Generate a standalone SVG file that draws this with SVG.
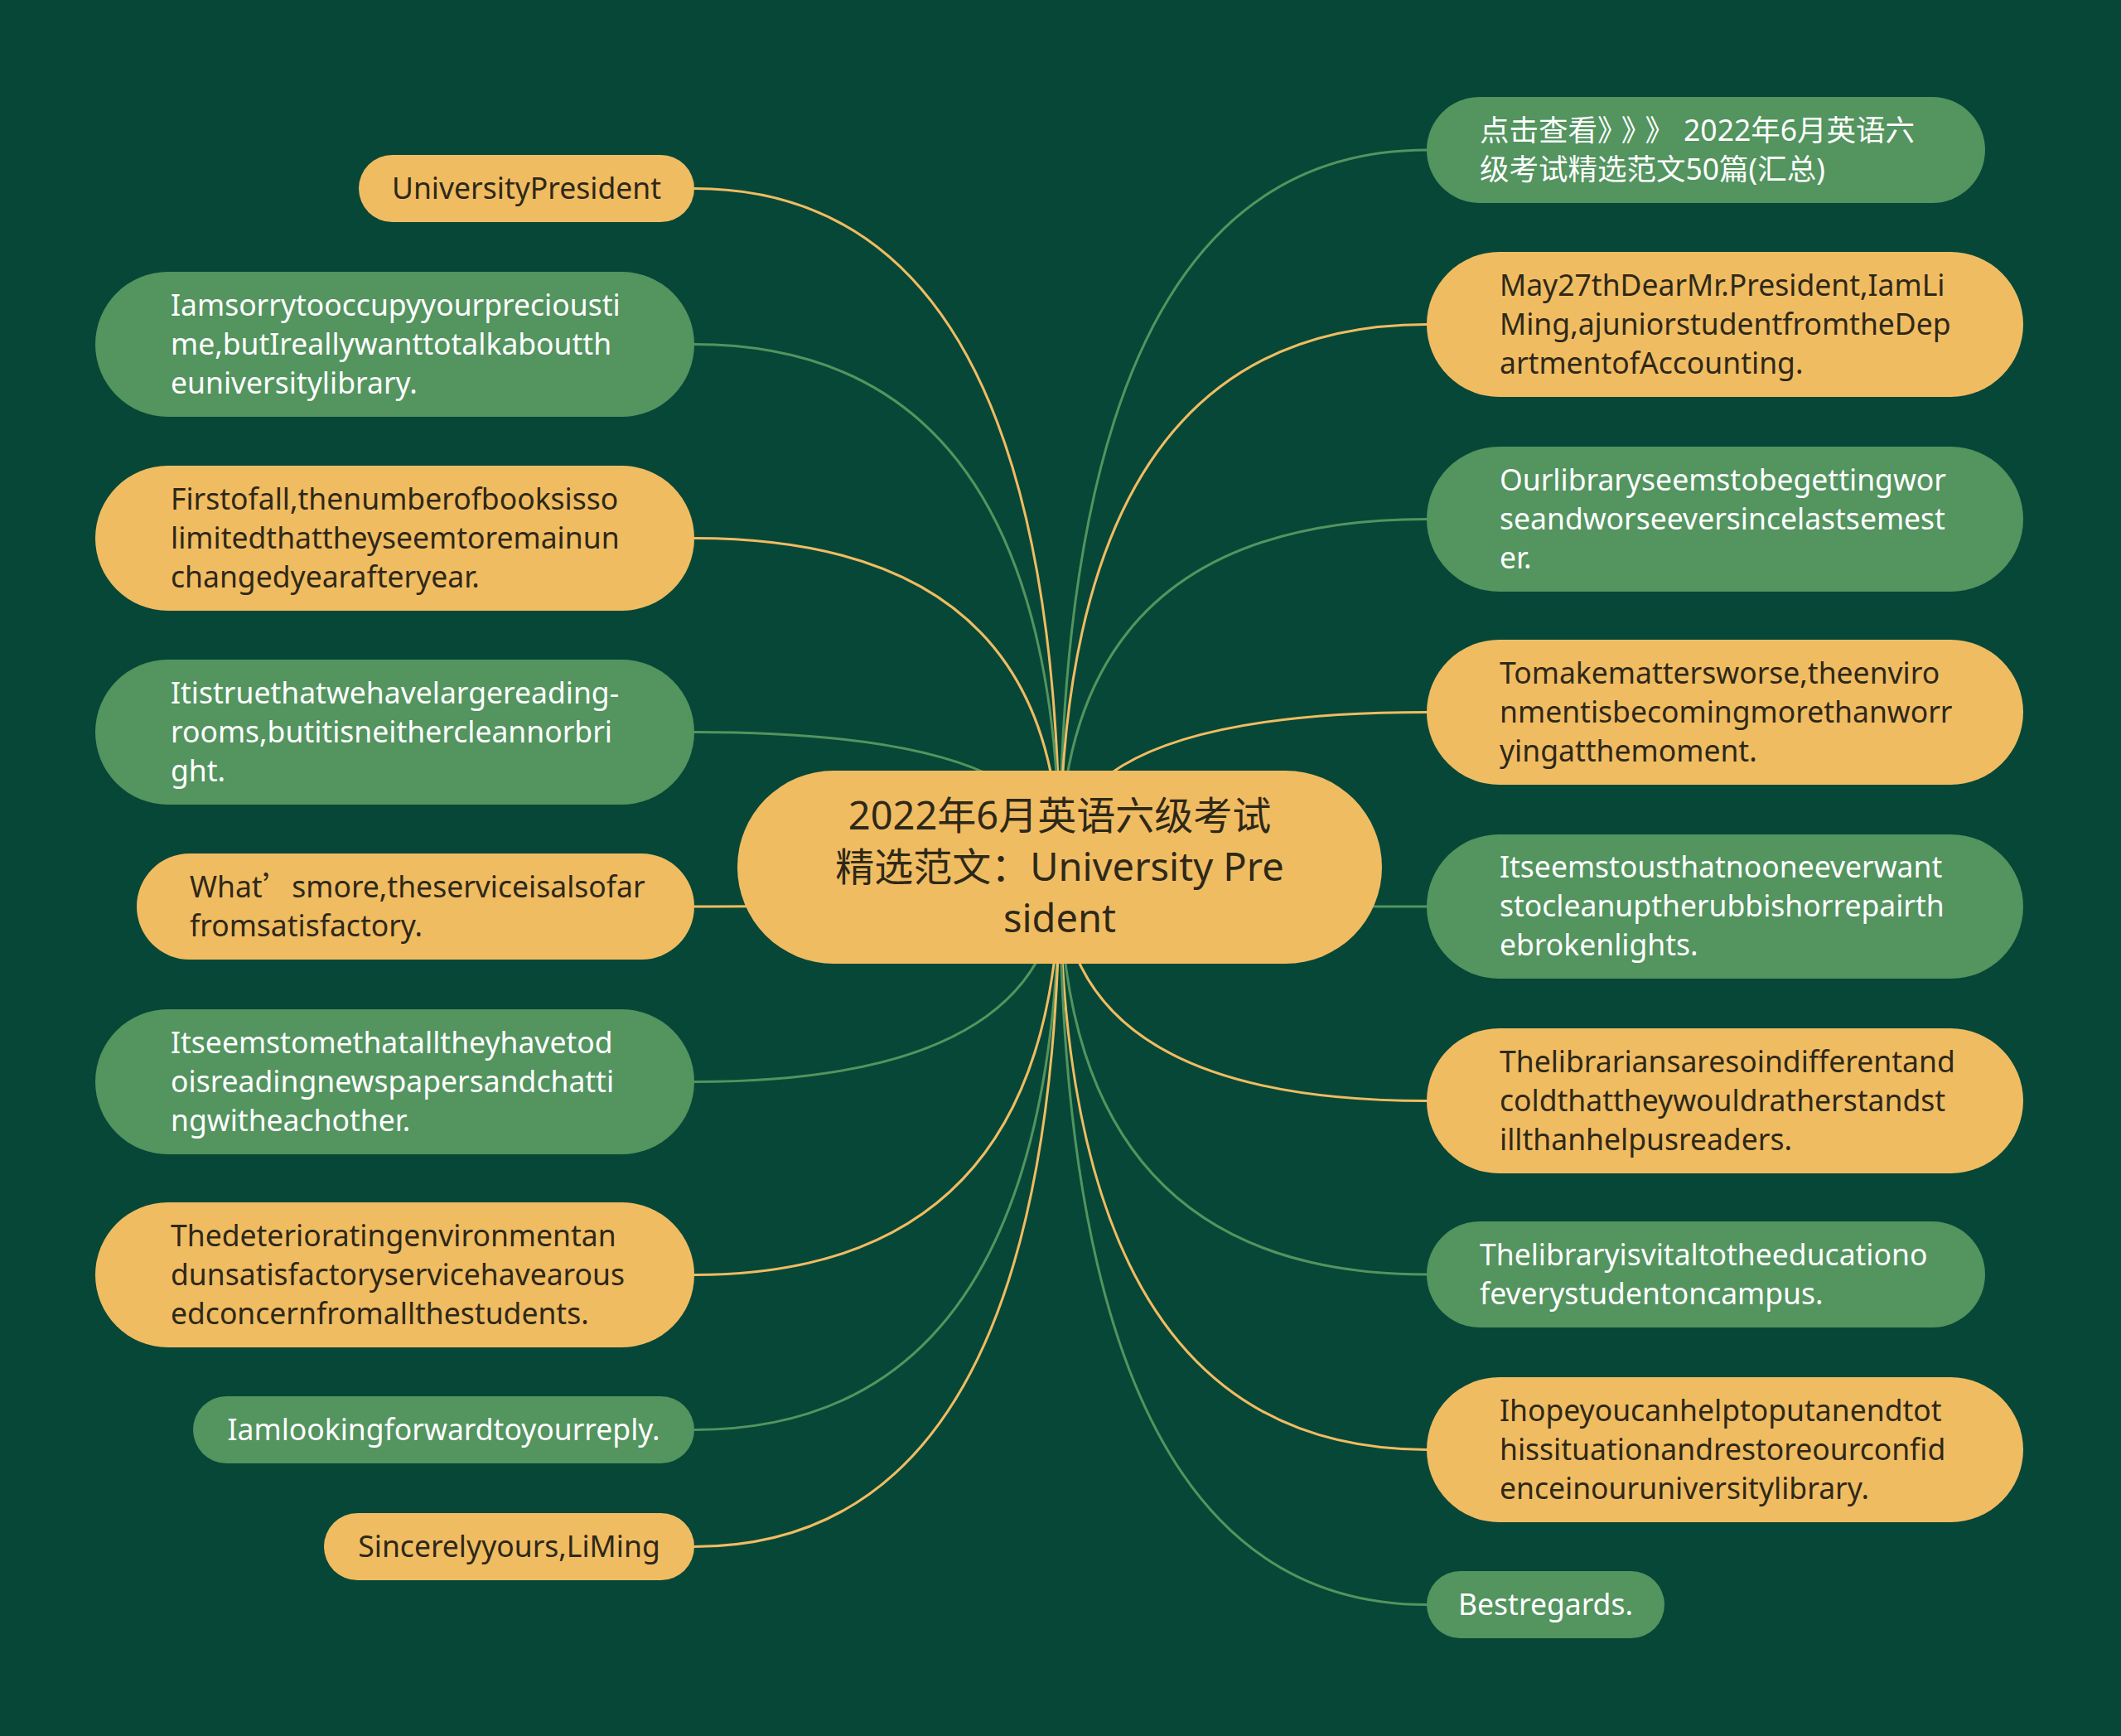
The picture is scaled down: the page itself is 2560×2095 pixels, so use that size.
<svg xmlns="http://www.w3.org/2000/svg" width="2560" height="2095" viewBox="0 0 2560 2095">
<style>
.bg{fill:#074737}
.lo{fill:none;stroke:#F0BC62;stroke-width:3}
.lg{fill:none;stroke:#53945F;stroke-width:3}
.no{fill:#F0BC62}
.ng{fill:#53945F}
.t{font-family:"Noto Sans","Noto Sans CJK SC",sans-serif;font-size:35.5px}
.cj{font-family:"Noto Sans CJK SC",sans-serif}
.to{fill:#2E2818}
.tg{fill:#FFFFFF}
.tc{font-family:"Noto Sans","Noto Sans CJK SC",sans-serif;font-size:47px;fill:#2E2818;text-anchor:middle}
.m{text-anchor:middle}
</style>
<rect class="bg" x="0" y="0" width="2560" height="2095"/>
<g id="connectors">
<path class="lo" d="M838 227.5 Q1279 227.5 1279 1047"/>
<path class="lg" d="M838 415.5 Q1279 415.5 1279 1047"/>
<path class="lo" d="M838 649.5 Q1279 649.5 1279 1047"/>
<path class="lg" d="M838 883.5 Q1279 883.5 1279 1047"/>
<path class="lo" d="M838 1094 Q1279 1094 1279 1047"/>
<path class="lg" d="M838 1305.5 Q1279 1305.5 1279 1047"/>
<path class="lo" d="M838 1538.5 Q1279 1538.5 1279 1047"/>
<path class="lg" d="M838 1725.5 Q1279 1725.5 1279 1047"/>
<path class="lo" d="M838 1866.5 Q1279 1866.5 1279 1047"/>
<path class="lg" d="M1722 181 Q1279 181 1279 1047"/>
<path class="lo" d="M1722 391.5 Q1279 391.5 1279 1047"/>
<path class="lg" d="M1722 626.5 Q1279 626.5 1279 1047"/>
<path class="lo" d="M1722 859.5 Q1279 859.5 1279 1047"/>
<path class="lg" d="M1722 1094 Q1279 1094 1279 1047"/>
<path class="lo" d="M1722 1328.5 Q1279 1328.5 1279 1047"/>
<path class="lg" d="M1722 1538 Q1279 1538 1279 1047"/>
<path class="lo" d="M1722 1749.5 Q1279 1749.5 1279 1047"/>
<path class="lg" d="M1722 1936.5 Q1279 1936.5 1279 1047"/>
</g>
<g id="center">
<rect class="no" x="890" y="930" width="778" height="233" rx="116.5"/>
<text class="tc" x="1279" y="1001">2022年6月英语六级考试</text>
<text class="tc" x="1279" y="1063">精选范文：University Pre</text>
<text class="tc" x="1279" y="1125">sident</text>
</g>
<g id="L1"><rect class="no" x="433" y="187" width="405" height="81" rx="40.5"/>
<text class="t to m" x="635.5" y="240">UniversityPresident</text></g>
<g id="L2"><rect class="ng" x="115" y="328" width="723" height="175" rx="87.5"/>
<text class="t tg" x="206" y="380.5">Iamsorrytooccupyyourpreciousti</text>
<text class="t tg" x="206" y="427.5">me,butIreallywanttotalkaboutth</text>
<text class="t tg" x="206" y="474.5">euniversitylibrary.</text></g>
<g id="L3"><rect class="no" x="115" y="562" width="723" height="175" rx="87.5"/>
<text class="t to" x="206" y="614.5">Firstofall,thenumberofbooksisso</text>
<text class="t to" x="206" y="661.5">limitedthattheyseemtoremainun</text>
<text class="t to" x="206" y="708.5">changedyearafteryear.</text></g>
<g id="L4"><rect class="ng" x="115" y="796" width="723" height="175" rx="87.5"/>
<text class="t tg" x="206" y="848.5">Itistruethatwehavelargereading-</text>
<text class="t tg" x="206" y="895.5">rooms,butitisneithercleannorbri</text>
<text class="t tg" x="206" y="942.5">ght.</text></g>
<g id="L5"><rect class="no" x="165" y="1030" width="673" height="128" rx="64"/>
<text class="t to" x="229" y="1083">What<tspan class="cj">’</tspan>smore,theserviceisalsofar</text>
<text class="t to" x="229" y="1130">fromsatisfactory.</text></g>
<g id="L6"><rect class="ng" x="115" y="1218" width="723" height="175" rx="87.5"/>
<text class="t tg" x="206" y="1270.5">Itseemstomethatalltheyhavetod</text>
<text class="t tg" x="206" y="1317.5">oisreadingnewspapersandchatti</text>
<text class="t tg" x="206" y="1364.5">ngwitheachother.</text></g>
<g id="L7"><rect class="no" x="115" y="1451" width="723" height="175" rx="87.5"/>
<text class="t to" x="206" y="1503.5">Thedeterioratingenvironmentan</text>
<text class="t to" x="206" y="1550.5">dunsatisfactoryservicehavearous</text>
<text class="t to" x="206" y="1597.5">edconcernfromallthestudents.</text></g>
<g id="L8"><rect class="ng" x="233" y="1685" width="605" height="81" rx="40.5"/>
<text class="t tg m" x="535.5" y="1738">Iamlookingforwardtoyourreply.</text></g>
<g id="L9"><rect class="no" x="391" y="1826" width="447" height="81" rx="40.5"/>
<text class="t to m" x="614.5" y="1879">Sincerelyyours,LiMing</text></g>
<g id="R1"><rect class="ng" x="1722" y="117" width="674" height="128" rx="64"/>
<text class="t tg" x="1786" y="170">点击查看<tspan class="cj" style="letter-spacing:11px">》》》</tspan>2022年6月英语六</text>
<text class="t tg" x="1786" y="217">级考试精选范文50篇(汇总)</text></g>
<g id="R2"><rect class="no" x="1722" y="304" width="720" height="175" rx="87.5"/>
<text class="t to" x="1810" y="356.5">May27thDearMr.President,IamLi</text>
<text class="t to" x="1810" y="403.5">Ming,ajuniorstudentfromtheDep</text>
<text class="t to" x="1810" y="450.5">artmentofAccounting.</text></g>
<g id="R3"><rect class="ng" x="1722" y="539" width="720" height="175" rx="87.5"/>
<text class="t tg" x="1810" y="591.5">Ourlibraryseemstobegettingwor</text>
<text class="t tg" x="1810" y="638.5">seandworseeversincelastsemest</text>
<text class="t tg" x="1810" y="685.5">er.</text></g>
<g id="R4"><rect class="no" x="1722" y="772" width="720" height="175" rx="87.5"/>
<text class="t to" x="1810" y="824.5">Tomakemattersworse,theenviro</text>
<text class="t to" x="1810" y="871.5">nmentisbecomingmorethanworr</text>
<text class="t to" x="1810" y="918.5">yingatthemoment.</text></g>
<g id="R5"><rect class="ng" x="1722" y="1007" width="720" height="174" rx="87"/>
<text class="t tg" x="1810" y="1059">Itseemstousthatnooneeverwant</text>
<text class="t tg" x="1810" y="1106">stocleanuptherubbishorrepairth</text>
<text class="t tg" x="1810" y="1153">ebrokenlights.</text></g>
<g id="R6"><rect class="no" x="1722" y="1241" width="720" height="175" rx="87.5"/>
<text class="t to" x="1810" y="1293.5">Thelibrariansaresoindifferentand</text>
<text class="t to" x="1810" y="1340.5">coldthattheywouldratherstandst</text>
<text class="t to" x="1810" y="1387.5">illthanhelpusreaders.</text></g>
<g id="R7"><rect class="ng" x="1722" y="1474" width="674" height="128" rx="64"/>
<text class="t tg" x="1786" y="1527">Thelibraryisvitaltotheeducationo</text>
<text class="t tg" x="1786" y="1574">feverystudentoncampus.</text></g>
<g id="R8"><rect class="no" x="1722" y="1662" width="720" height="175" rx="87.5"/>
<text class="t to" x="1810" y="1714.5">Ihopeyoucanhelptoputanendtot</text>
<text class="t to" x="1810" y="1761.5">hissituationandrestoreourconfid</text>
<text class="t to" x="1810" y="1808.5">enceinouruniversitylibrary.</text></g>
<g id="R9"><rect class="ng" x="1722" y="1896" width="287" height="81" rx="40.5"/>
<text class="t tg m" x="1865.5" y="1949">Bestregards.</text></g>
</svg>
